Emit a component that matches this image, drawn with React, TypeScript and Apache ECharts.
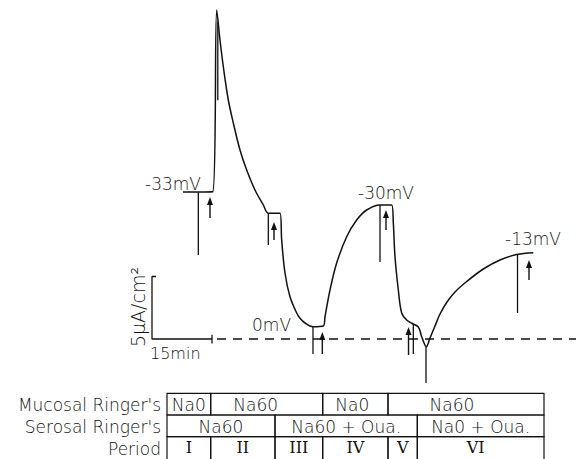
import React, { useEffect, useRef } from "react";
import * as echarts from "echarts";

// ---- data (time in minutes, current in µA/cm²) ----
const traceTime = [
  7.75, 15.18, 16.18, 17.0, 17.83, 19.08, 20.33, 22.0, 23.67, 25.75, 27.83, 29.08, 32.0,
  32.42, 33.25, 34.5, 36.17, 37.0, 38.25, 40.25, 42.83, 43.25, 44.5, 46.17, 48.67, 51.17,
  53.67, 57.0, 59.92, 60.33, 60.75, 61.58, 62.42, 63.67, 64.92, 66.58, 67.42, 68.58, 69.5,
  70.75, 72.0, 73.75, 75.75, 78.68, 82.83, 87.0, 91.18, 95.33,
];
const traceCurrent = [
  11.76, 11.78, 26.32, 23.92, 21.78, 19.12, 17.28, 15.12, 13.52, 11.92, 10.72, 10.06, 10.06,
  7.92, 5.28, 3.38, 2.08, 1.66, 1.28, 0.98, 1.04, 1.78, 3.92, 6.08, 8.18, 9.52,
  10.32, 10.72, 10.72, 9.28, 6.58, 3.92, 2.08, 1.52, 1.26, 0.96, 0.18, -0.62, 0.08,
  1.04, 2.0, 2.96, 3.76, 4.6, 5.6, 6.32, 6.76, 6.9,
];

// voltage pulse deflections: [time, from current, to current]
const pulses = [
  [11.58, 11.76, 6.72],
  [16.45, 25.4, 19.1],
  [29.08, 10.06, 7.52],
  [40.25, 0.98, -1.2],
  [57.0, 10.72, 6.16],
  [65.33, 1.2, -1.2],
  [68.5, -0.62, -3.52],
  [91.38, 6.76, 2.08],
];

// solution-change arrows: [time, tail current, head current]
const arrows = [
  [14.5, 9.68, 11.36],
  [30.5, 7.92, 9.36],
  [42.58, -1.2, 0.56],
  [58.5, 8.72, 10.32],
  [64.13, -1.28, 0.96],
  [94.25, 4.72, 6.32],
];

const zeroLine = [[16.25, 0], [106, 0]];
const scaleBar = [[1, 5], [0, 5], [0, 0], [15, 0]];
const scaleTick = [[15, 0.35], [15, -0.35]];

const potentialLabels = ["-33mV", "-30mV", "-13mV", "0mV"];

const rowLabels = ["Mucosal Ringer's", "Serosal Ringer's", "Period"];
const mucosalBounds = [3.75, 14.67, 42.67, 59, 98];
const mucosalLabels = ["Na0", "Na60", "Na0", "Na60"];
const serosalBounds = [3.75, 30.75, 66.33, 98];
const serosalLabels = ["Na60", "Na60 + Oua.", "Na0 + Oua."];
const periodBounds = [3.75, 14.67, 30.75, 42.67, 59, 66.33, 98];
const periodLabels = ["I", "II", "III", "IV", "V", "VI"];

// ---- layout ----
const W = 576;
const H = 459;
const INK = "#111";
const FONT = "'DejaVu Sans', 'Liberation Sans', sans-serif";
const SERIF = "'DejaVu Serif', 'Liberation Serif', serif";
const ROW_TOP = [393.3, 415, 436.7];
const ROW_H = [21.7, 21.7, 40];
const ROW_TEXT_Y = [405, 427, 447.5];
const CELL_TEXT_DX = [0, -11, -3, -14, 0, 0, 0, 0, 0, 0, 0, 0, -5];

export default function App() {
  const ref = useRef<HTMLDivElement>(null);
  useEffect(() => {
    if (!ref.current) return;
    const chart = echarts.init(ref.current, null, { renderer: "svg" });

    const trace = traceTime.map((t, i) => [t, traceCurrent[i]]);

    const cellLabels: string[] = [];
    const cells: number[][] = [];
    const addRow = (bounds: number[], labels: string[], row: number) => {
      labels.forEach((lab, i) => {
        cells.push([bounds[i], bounds[i + 1], row, cellLabels.length]);
        cellLabels.push(lab);
      });
    };
    addRow(mucosalBounds, mucosalLabels, 0);
    addRow(serosalBounds, serosalLabels, 1);
    addRow(periodBounds, periodLabels, 2);

    const txt = (x: number, y: number, text: string, size = 17, extra: any = {}) => ({
      type: "text",
      x,
      y,
      ...extra,
      style: {
        text,
        fontSize: size,
        fontFamily: FONT,
        fontWeight: 200,
        fill: INK,
        align: extra.align || "left",
        verticalAlign: "middle",
      },
    });

    const option: any = {
      animation: false,
      backgroundColor: "#ffffff",
      grid: { left: 0, right: 0, top: 0, bottom: 0 },
      xAxis: { type: "value", min: -38, max: 106, show: false },
      yAxis: { type: "value", min: -9.6, max: 27.12, show: false },
      series: [
        {
          type: "line",
          data: trace,
          showSymbol: false,
          silent: true,
          smooth: 0.35,
          lineStyle: { color: INK, width: 1.5 },
          z: 5,
        },
        {
          type: "line",
          data: zeroLine,
          showSymbol: false,
          silent: true,
          lineStyle: { color: INK, width: 1.3, type: [9, 7] },
        },
        {
          type: "line",
          data: scaleBar,
          showSymbol: false,
          silent: true,
          lineStyle: { color: INK, width: 1.3 },
        },
        {
          type: "line",
          data: scaleTick,
          showSymbol: false,
          silent: true,
          lineStyle: { color: INK, width: 1.3 },
        },
        {
          type: "custom",
          data: pulses,
          silent: true,
          renderItem: (_p: any, api: any) => {
            const a = api.coord([api.value(0), api.value(1)]);
            const b = api.coord([api.value(0), api.value(2)]);
            return {
              type: "line",
              shape: { x1: a[0], y1: a[1], x2: b[0], y2: b[1] },
              style: { stroke: INK, lineWidth: 1.3 },
            };
          },
        },
        {
          type: "custom",
          data: arrows,
          silent: true,
          renderItem: (_p: any, api: any) => {
            const tail = api.coord([api.value(0), api.value(1)]);
            const head = api.coord([api.value(0), api.value(2)]);
            const x = tail[0];
            return {
              type: "group",
              children: [
                {
                  type: "line",
                  shape: { x1: x, y1: tail[1], x2: x, y2: head[1] + 6 },
                  style: { stroke: INK, lineWidth: 1.4 },
                },
                {
                  type: "polygon",
                  shape: { points: [[x - 3, head[1] + 8], [x + 3, head[1] + 8], [x, head[1]]] },
                  style: { fill: INK },
                },
              ],
            };
          },
        },
        {
          type: "custom",
          data: cells,
          silent: true,
          renderItem: (_p: any, api: any) => {
            const x0 = api.coord([api.value(0), 0])[0];
            const x1 = api.coord([api.value(1), 0])[0];
            const row = api.value(2);
            const idx = api.value(3);
            const lab = cellLabels[idx];
            const y0 = ROW_TOP[row];
            const roman = row === 2;
            return {
              type: "group",
              children: [
                {
                  type: "rect",
                  shape: { x: x0, y: y0, width: x1 - x0, height: ROW_H[row] },
                  style: { fill: "none", stroke: INK, lineWidth: 1.2 },
                },
                {
                  type: "text",
                  style: {
                    text: lab,
                    x: (x0 + x1) / 2 + (CELL_TEXT_DX[idx] || 0),
                    y: ROW_TEXT_Y[row],
                    align: "center",
                    verticalAlign: "middle",
                    fontSize: roman ? 16 : 17,
                    fontFamily: roman ? SERIF : FONT,
                    fontWeight: roman ? "normal" : 200,
                    fill: INK,
                  },
                },
              ],
            };
          },
        },
      ],
      graphic: [
        txt(145, 184, potentialLabels[0]),
        txt(358, 192.5, potentialLabels[1]),
        txt(505, 238.5, potentialLabels[2]),
        txt(252, 325, potentialLabels[3]),
        txt(150, 353, "15min", 16),
        txt(138, 307, "5μA/cm²", 19, { rotation: Math.PI / 2, align: "center" }),
        ...rowLabels.map((lab, i) => txt(161, ROW_TEXT_Y[i] + (i === 2 ? 1.5 : 0), lab, 17, { align: "right" })),
      ],
    };
    chart.setOption(option);
    return () => chart.dispose();
  }, []);
  return <div ref={ref} style={{ position: "fixed", left: 0, top: 0, width: W, height: H }} />;
}
